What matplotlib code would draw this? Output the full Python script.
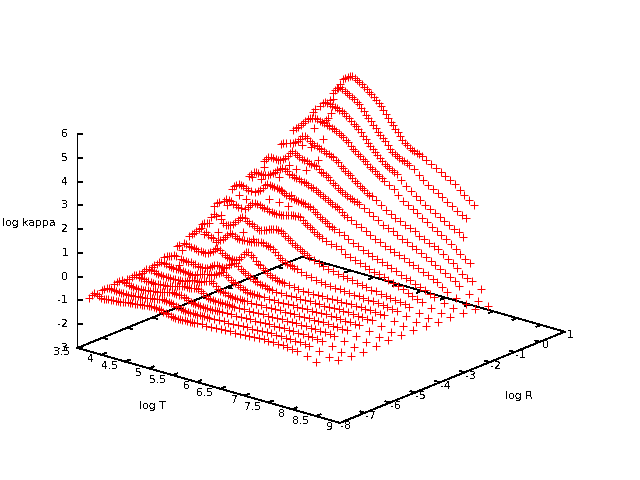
import matplotlib

matplotlib.use("Agg")
import matplotlib.pyplot as plt
import numpy as np
from mpl_toolkits.mplot3d import proj3d

_ = None  # no table entry at this point

log_t = [3.75, 3.80, 3.85, 3.90, 3.95, 4.00, 4.05, 4.10, 4.15, 4.20,
         4.25, 4.30, 4.35, 4.40, 4.45, 4.50, 4.55, 4.60, 4.65, 4.70,
         4.75, 4.80, 4.85, 4.90, 4.95, 5.00, 5.05, 5.10, 5.15, 5.20,
         5.25, 5.30, 5.35, 5.40, 5.45, 5.50, 5.55, 5.60, 5.65, 5.70,
         5.75, 5.80, 5.85, 5.90, 5.95, 6.00,
         6.1, 6.2, 6.3, 6.4, 6.5, 6.6, 6.7, 6.8, 6.9, 7.0,
         7.1, 7.2, 7.3, 7.4, 7.5, 7.6, 7.7, 7.8, 7.9, 8.0, 8.1,
         8.3, 8.5, 8.7]

log_r = [-8.0, -7.5, -7.0, -6.5, -6.0, -5.5, -5.0, -4.5, -4.0, -3.5,
         -3.0, -2.5, -2.0, -1.5, -1.0, -0.5, 0.0, 0.5, 1.0]

kappa_m80 = [-.77, -.58, -.50, -.50, -.54, -.60, -.62, -.60, -.58, -.57,
             -.56, -.55, -.54, -.53, -.51, -.50, -.48, -.47, -.46, -.45,
             -.44, -.42, -.41, -.40, -.38, -.36, -.35, -.36, -.38, -.40,
             -.42, -.44, -.48, -.50, -.53, -.55, -.56, -.56, -.55, -.55,
             -.54, -.54, -.54, -.53, -.53, -.52,
             -.52, -.51, -.50, -.50, -.49, -.48, -.47, -.47, -.46, -.46,
             -.44, -.42, -.40, -.39, -.40, -.41, -.42, -.43, -.45, -.46, -.48,
             -.58, -.73, _]
kappa_m75 = [-.65, -.55, -.48, -.45, -.47, -.50, -.52, -.52, -.52, -.52,
             -.52, -.52, -.51, -.50, -.49, -.47, -.46, -.45, -.44, -.42,
             -.40, -.38, -.36, -.34, -.32, -.30, -.30, -.31, -.33, -.36,
             -.38, -.42, -.45, -.48, -.50, -.52, -.53, -.53, -.53, -.52,
             -.52, -.52, -.51, -.51, -.51, -.50,
             -.50, -.49, -.48, -.48, -.47, -.46, -.46, -.45, -.45, -.44,
             -.43, -.42, -.42, -.42, -.42, -.43, -.44, -.45, -.46, -.47, -.48,
             -.60, -.72, -.73]
kappa_m70 = [-.58, -.50, -.40, -.35, -.38, -.42, -.46, -.48, -.49, -.50,
             -.50, -.50, -.49, -.47, -.46, -.45, -.43, -.42, -.41, -.38,
             -.35, -.32, -.30, -.28, -.26, -.25, -.25, -.26, -.27, -.29,
             -.30, -.36, -.42, -.45, -.47, -.48, -.50, -.50, -.50, -.49,
             -.49, -.49, -.48, -.48, -.48, -.48,
             -.48, -.47, -.47, -.46, -.46, -.45, -.45, -.44, -.44, -.43,
             -.43, -.42, -.42, -.42, -.42, -.43, -.44, -.45, -.46, -.47, -.48,
             -.60, -.71, -.78]
kappa_m65 = [-.60, -.55, -.45, -.35, -.32, -.35, -.38, -.41, -.43, -.44,
             -.45, -.45, -.45, -.44, -.42, -.41, -.40, -.40, -.38, -.35,
             -.32, -.28, -.26, -.24, -.22, -.22, -.21, -.20, -.18, -.16,
             -.15, -.20, -.28, -.36, -.40, -.42, -.44, -.45, -.46, -.46,
             -.46, -.46, -.46, -.47, -.47, -.47,
             -.47, -.46, -.46, -.46, -.45, -.45, -.44, -.44, -.44, -.43,
             -.43, -.43, -.42, -.42, -.42, -.43, -.44, -.45, -.46, -.47, -.48,
             -.60, -.72, -.81]
kappa_m60 = [-.60, -.54, -.42, -.30, -.26, -.28, -.32, -.36, -.38, -.40,
             -.40, -.40, -.40, -.40, -.39, -.38, -.38, -.38, -.36, -.33,
             -.30, -.26, -.23, -.20, -.20, -.20, -.17, -.12, -.08, -.04,
             -.02, -.08, -.18, -.28, -.32, -.35, -.38, -.40, -.42, -.44,
             -.45, -.46, -.46, -.46, -.46, -.46,
             -.46, -.46, -.45, -.45, -.45, -.44, -.44, -.44, -.43, -.43,
             -.43, -.42, -.42, -.42, -.42, -.43, -.44, -.45, -.46, -.47, -.48,
             -.60, -.72, -.77]
kappa_m55 = [-.50, -.41, -.32, -.24, -.20, -.20, -.23, -.26, -.28, -.29,
             -.30, -.30, -.31, -.32, -.33, -.34, -.35, -.35, -.32, -.28,
             -.24, -.20, -.17, -.15, -.14, -.15, -.10, -.03, .04, .09,
             .12, .05, -.04, -.12, -.17, -.20, -.25, -.30, -.34, -.38,
             -.41, -.42, -.43, -.44, -.45, -.45,
             -.45, -.45, -.45, -.45, -.44, -.44, -.44, -.43, -.43, -.43,
             -.43, -.42, -.42, -.42, -.42, -.43, -.44, -.45, -.46, -.47, -.48,
             -.60, -.72, -.77]
kappa_m50 = [-.30, -.25, -.20, -.17, -.12, -.14, -.48, -.18, -.20, -.21,
             -.22, -.22, -.24, -.25, -.27, -.28, -.29, -.29, -.24, -.18,
             -.12, -.06, -.02, -.02, -.04, -.05, .03, .12, .22, .28,
             .30, .22, .12, .03, -.02, -.05, -.12, -.18, -.22, -.26,
             -.29, -.30, -.33, -.36, -.38, -.40,
             -.42, -.43, -.43, -.43, -.43, -.43, -.43, -.43, -.43, -.43,
             -.43, -.42, -.42, -.42, -.42, -.43, -.44, -.45, -.46, -.47, -.48,
             -.60, -.72, -.77]
kappa_m45 = [-.05, .02, -.18, .14, .12, .10, .07, .05, .03, .01,
             .00, -.01, -.01, .03, .10, .18, .27, .34, .30, .20,
             .12, .07, .06, .06, .06, .07, .12, .25, .40, .50,
             .53, .47, .38, .25, .18, .14, .06, -.02, -.10, -.16,
             -.22, -.25, -.28, -.30, -.32, -.34,
             -.35, -.38, -.40, -.42, -.43, -.43, -.43, -.43, -.43, -.43,
             -.43, -.42, -.42, -.42, -.42, -.43, -.44, -.45, -.46, -.47, -.48,
             -.60, -.72, -.76]
kappa_m40 = [.15, .25, .35, .45, .55, .62, .41, .50, .42, .37,
             .35, .23, .34, .36, .42, .52, .64, .75, .76, .68,
             .65, .63, .62, .62, .63, .64, .66, .68, .71, .73,
             .74, .73, .70, .67, .65, .60, .52, .40, .32, .26,
             .20, .16, .13, .10, .08, .06,
             .00, -.08, -.12, -.17, -.22, -.25, -.27, -.28, -.29, -.30,
             -.32, -.34, -.35, -.36, -.38, -.39, -.41, -.43, -.45, -.47, -.50,
             -.62, -.73, -.80]
kappa_m35 = [.45, .50, .55, .57, .85, 1.0, .97, .30, .88, .74,
             .68, .70, .75, .82, .92, 1.05, 1.16, 1.24, 1.20, 1.12,
             1.06, 1.03, 1.0, .93, .89, .89, .92, .97, 1.02, 1.06,
             1.09, 1.10, 1.10, 1.08, 1.03, .95, .90, .82, .72, .66,
             .60, .55, .50, .45, .40, .36,
             .27, .20, .14, .08, .03, -.03, -.06, -.10, -.13, -.16,
             -.20, -.25, -.28, -.30, -.34, -.40, -.42, -.44, -.47, -.50, -.55,
             -.68, -.78, -.84]
kappa_m30 = [1.0, 1.12, 1.22, .71, 1.33, 1.41, 1.42, 1.38, 1.32, 1.27,
             1.24, 1.22, .24, 1.25, 1.33, 1.44, 1.55, 1.61, 1.60, 1.57,
             1.53, 1.50, 1.47, 1.45, 1.43, 1.42, 1.41, 1.41, 1.42, 1.44,
             1.47, 1.50, 1.52, 1.54, 1.56, 1.57, 1.55, 1.46, 1.38, 1.32,
             1.26, 1.18, 1.08, 1.02, .98, .95,
             .87, .80, .76, .68, .55, .47, .40, .33, .25, .18,
             .15, .10, .05, -.03, -.10, -.18, -.26, -.35, -.42, -.49, -.55,
             -.68, -.78, -.83]
kappa_m25 = [.83, _, 1.55, 1.68, 1.76, 1.83, 1.83, 1.80, 1.76, 1.72,
             1.70, -.30, 1.71, 1.76, 1.86, 1.98, 2.10, 2.17, 2.18, 2.16,
             2.14, 2.12, 2.10, 2.07, 2.02, 1.97, 1.94, 1.90, 1.87, 1.86,
             1.85, 1.84, 1.83, 1.80, 1.76, 1.72, 1.67, 1.60, 1.52, 1.44,
             1.36, 1.30, 1.25, 1.18, 1.13, 1.10,
             1.02, .95, .85, .74, .65, .56, .48, .40, .33, .27,
             .20, .15, .06, -.03, -.10, -.15, -.23, -.32, -.40, -.48, -.55,
             -.68, -.80, -.88]
kappa_m20 = [1.02, _, _, .93, 1.95, 2.05, 2.15, 2.20, 2.19, 2.17,
             2.16, 2.17, 2.20, 2.26, 2.34, 2.44, 2.54, 2.62, 2.69, 2.68,
             2.60, 2.52, 2.48, 2.45, 2.42, 2.40, 2.37, 2.34, 2.31, 2.26,
             2.24, 2.21, 2.14, 2.08, 2.02, 1.98, 1.93, 1.88, 1.82, 1.77,
             1.72, 1.68, 1.62, 1.54, 1.46, 1.40,
             1.30, 1.22, 1.12, 1.02, .92, .82, .72, .63, .56, .48,
             .40, .33, .25, .18, .10, .0, -.08, -.18, -.28, -.42, -.55,
             -.70, -.85, -.95]
kappa_m15 = [1.57, _, _, _, 1.60, 2.40, 2.50, 2.60, 2.65, 2.63,
             2.61, 2.60, 2.62, 2.68, 2.78, 2.90, 3.02, 3.13, 3.11, 3.04,
             2.98, 2.94, 2.91, 2.88, 2.85, 2.83, 2.81, 2.79, 2.72, 2.62,
             2.58, 2.53, 2.48, 2.40, 2.30, 2.22, 2.15, 2.08, 2.02, 1.96,
             1.90, 1.86, 1.83, 1.80, 1.77, 1.73,
             1.62, 1.50, 1.38, 1.26, 1.14, 1.05, .98, .88, .78, .70,
             .60, .50, .40, .30, .18, .07, -.05, -.15, -.25, -.38, -.54,
             -.74, -.94, -1.03]
kappa_m10 = [1.79, _, .47, _, _, _, .46, 2.95, 3.03, 3.05,
             .41, 3.08, 3.12, 3.18, 3.28, 3.38, 3.52, 3.57, 3.50, 3.42,
             3.36, 3.31, 3.28, 3.24, 3.20, 3.17, 3.13, 3.10, 3.06, 3.03,
             2.95, 2.86, 2.75, 2.66, 2.60, 2.54, 2.45, 2.36, 2.28, 2.20,
             2.13, 2.06, 2.00, 1.93, 1.86, 1.83,
             1.72, 1.57, 1.44, 1.30, 1.20, 1.12, 1.03, .97, .90, .75,
             .65, .57, .50, .42, .25, .12, -.02, -.15, -.33, -.45, -.54,
             -.73, _, _]
kappa_m05 = [_, 1.15, .67, _, _, _, .57, 3.30, 3.45, 3.50,
             3.60, 3.72, 3.85, 3.97, 4.04, 4.07, 4.07, 4.05, 4.03, 4.00,
             3.97, 3.93, 3.90, 3.87, 3.84, 3.80, 3.75, 3.70, 3.64, 3.55,
             3.46, 3.35, 3.24, 3.17, 3.10, 3.03, 2.95, 2.87, 2.79, 2.70,
             2.62, 2.55, 2.47, 2.40, 2.34, 2.28,
             2.15, 2.02, 1.85, 1.65, 1.55, 1.42, 1.30, 1.17, 1.05, .92,
             .80, .68, .55, .40, .25, .12, -.03, -.14, _, _, _,
             _, _, _]
kappa_p00 = [1.42, _, _, 1.37, _, _, _, 1.41, _, _,
             3.95, 4.10, 1.97, 4.30, 4.45, 4.50, 4.50, 4.47, 4.45, 4.42,
             4.40, 4.36, 4.32, 4.27, 4.20, 4.12, 4.03, 3.95, 3.87, 3.80,
             3.68, 3.56, 3.43, 3.32, 3.21, 3.10, 3.00, 2.90, 2.80, 2.71,
             2.63, 2.56, 2.50, 2.44, 2.39, 2.34,
             2.15, 1.97, 1.80, 1.66, 1.52, 1.40, 1.27, 1.15, 1.03, .92,
             .82, .72, .63, .49, _, _, _, _, _, _, _,
             _, _, _]
kappa_p05 = [2.05, _, _, _, 2.08, _, _, _, _, 2.56,
             _, 3.50, 4.30, 4.62, 4.78, 4.90, 4.95, 4.92, 4.85, 4.78,
             4.72, 4.67, 4.62, 4.55, 4.47, 4.35, 4.22, 4.10, 4.00, 3.90,
             3.78, 3.66, 3.54, 3.43, 3.33, 3.22, 3.10, 2.97, 2.85, 2.78,
             2.74, 2.70, 2.65, 2.60, 2.56, 2.52,
             2.42, 2.22, 2.05, 1.90, 1.78, 1.68, 1.55, 1.42, 1.30, 1.15,
             1.05, .95, _, _, _, _, _, _, _, _, _,
             _, _, _]
kappa_p10 = [2.58, _, _, _, _, 3.05, _, 3.39, 4.03, _,
             4.55, 4.75, 4.95, 5.05, 5.12, 5.19, 5.20, 5.17, 5.10, 5.03,
             4.97, 4.90, 4.83, 4.75, 4.67, 4.58, 4.48, 4.38, 4.28, 4.17,
             4.02, 3.88, 3.74, 3.62, 3.50, 3.38, 3.25, 3.13, 3.03, 2.95,
             2.88, 2.83, 2.79, 2.75, 2.72, 2.68,
             2.58, 2.45, 2.33, 2.22, 2.12, 2.03, 1.88, 1.72, 1.55, 1.40,
             1.24, _, _, _, _, _, _, _, _, _, _,
             _, _, _]

kappa_curves = [kappa_m80, kappa_m75, kappa_m70, kappa_m65, kappa_m60, kappa_m55, kappa_m50,
                kappa_m45, kappa_m40, kappa_m35, kappa_m30, kappa_m25, kappa_m20, kappa_m15,
                kappa_m10, kappa_m05, kappa_p00, kappa_p05, kappa_p10]

t_ticks = [3.5, 4, 4.5, 5, 5.5, 6, 6.5, 7, 7.5, 8, 8.5, 9]
r_ticks = [-8, -7, -6, -5, -4, -3, -2, -1, 0, 1]
z_ticks = [-3, -2, -1, 0, 1, 2, 3, 4, 5, 6]

t_min, t_max = 3.5, 9
r_min, r_max = -8, 1
z_min, z_max = -3, 6

plt.rcParams["font.family"] = "DejaVu Sans"
plt.rcParams["font.size"] = 7.8
plt.rcParams["text.antialiased"] = False

fig = plt.figure(figsize=(6.4, 4.8), dpi=100)
# square box, 524 px wide; it runs past the bottom of the figure on purpose
ax = fig.add_axes([52 / 640, -22 / 480, 524 / 640, 524 / 480], projection="3d", proj_type="ortho")
ax.view_init(elev=19.9, azim=-50)
ax.set_box_aspect((343, 350, 227.6))
ax.set_xlim(t_min, t_max, view_margin=0)
ax.set_ylim(r_min, r_max, view_margin=0)
ax.set_zlim(z_min, z_max, view_margin=0)
ax.set_axis_off()
ax.computed_zorder = False


def nudge(t, r, z, dx, dy):
    # shift a 3d position by screen pixels (dx right, dy up)
    return t + dx * 0.01216, r + dx * 0.01676, z + dy * 0.04206


def tick_label(t, r, z, text, dx, dy, ha):
    # 2d annotation at the projected tick, offset in pixels
    x2, y2, _z = proj3d.proj_transform(t, r, z, ax.get_proj())
    ax.annotate(text, (x2, y2), xytext=(dx * 0.72, dy * 0.72), textcoords="offset points",
                ha=ha, va="center", annotation_clip=False, zorder=4)


black = dict(color="black", lw=0.6, antialiased=False, zorder=1)

# base square and the vertical axis
ax.plot([t_min, t_max, t_max, t_min, t_min], [r_min, r_min, r_max, r_max, r_min], z_min, **black)
ax.plot([t_min, t_min], [r_min, r_min], [z_min, z_max], **black)

t_len = 0.017 * (t_max - t_min)
r_len = 0.02 * (r_max - r_min)

for t in t_ticks:
    ax.plot([t, t], [r_min, r_min + r_len], z_min, **black)
    ax.plot([t, t], [r_max, r_max - r_len], z_min, **black)
    tick_label(t, r_min, z_min, str(t), -7, -4.5, "right")

for r in r_ticks:
    ax.plot([t_max, t_max - t_len], [r, r], z_min, **black)
    ax.plot([t_min, t_min + t_len], [r, r], z_min, **black)
    tick_label(t_max, r, z_min, str(r), 6, -3.5, "center")

for z in z_ticks:
    end = nudge(t_min, r_min, z, 5, 0)
    ax.plot([t_min, end[0]], [r_min, end[1]], [z, z], **black)
    tick_label(t_min, r_min, z, str(z), -9, 0, "right")

log_t_arr = np.array(log_t)
for r, kappa in zip(log_r, kappa_curves):
    ax.plot(log_t_arr, np.full(log_t_arr.size, r), np.array(kappa, dtype=float), linestyle="none",
            marker="+", ms=5.4, mew=0.72, color="#ff0000", antialiased=False, zorder=2)

fig.text(2 / 640, 1 - 223 / 480, "log kappa", ha="left", va="center")
fig.text(152 / 640, 1 - 406 / 480, "log T", ha="center", va="center")
fig.text(519 / 640, 1 - 396 / 480, "log R", ha="center", va="center")

fig.savefig("out.png", dpi=100)
